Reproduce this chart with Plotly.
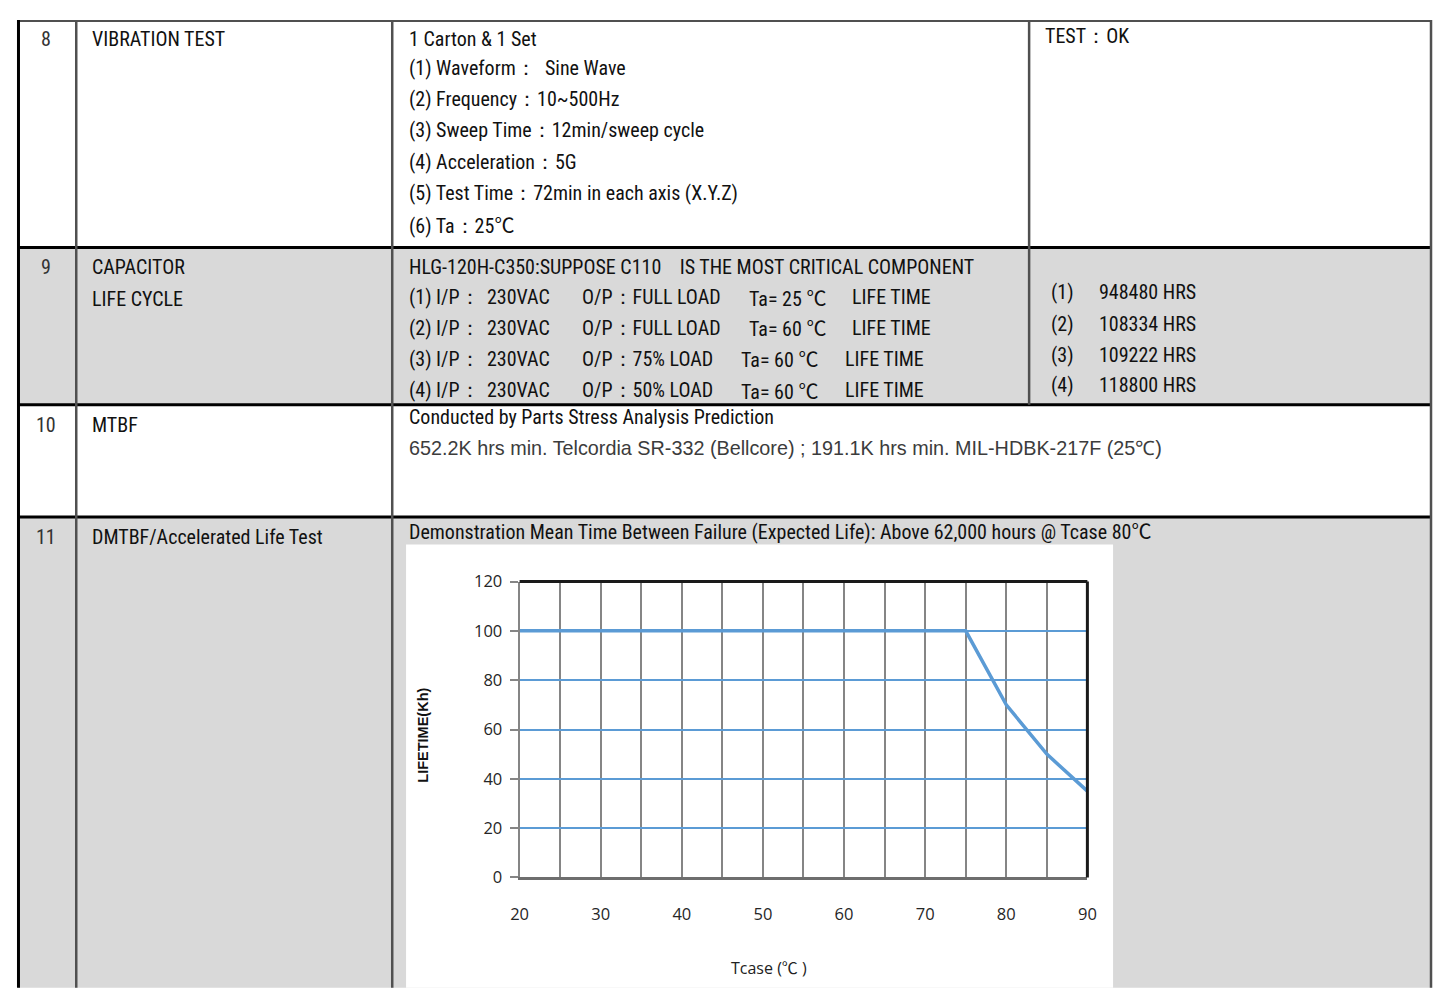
import plotly.graph_objects as go

# The page body keeps its default 8px margin on every side, so the figure is drawn
# 16px smaller and every reference pixel coordinate is shifted by that margin.
OFF = 8
W, H = 1449 - 2 * OFF, 999 - 2 * OFF

# ---------------- data ----------------
tcase = [20, 75, 80, 85, 90]
lifetime_kh = [100, 100, 70, 50, 35]

x_ticks = [20, 30, 40, 50, 60, 70, 80, 90]
y_ticks = [0, 20, 40, 60, 80, 100, 120]

DEG = '<span style="font-family:Noto Sans CJK SC">℃</span>'

row_numbers = ["8", "9", "10", "11"]
row_items = [["VIBRATION TEST"], ["CAPACITOR", "LIFE CYCLE"], ["MTBF"], ["DMTBF/Accelerated Life Test"]]

vibration_lines = [
    "1 Carton & 1 Set",
    "(1) Waveform：  Sine Wave",
    "(2) Frequency：10~500Hz",
    "(3) Sweep Time：12min/sweep cycle",
    "(4) Acceleration：5G",
    "(5) Test Time：72min in each axis (X.Y.Z)",
    "(6) Ta：25" + DEG,
]
vibration_result = "TEST：OK"

cap_header = "HLG-120H-C350:SUPPOSE C110    IS THE MOST CRITICAL COMPONENT"
cap_index = ["(1)", "(2)", "(3)", "(4)"]
cap_ip = ["230VAC", "230VAC", "230VAC", "230VAC"]
cap_op = ["O/P：FULL LOAD", "O/P：FULL LOAD", "O/P：75% LOAD", "O/P：50% LOAD"]
cap_ta = ["Ta= 25 " + DEG, "Ta= 60 " + DEG, "Ta= 60 " + DEG, "Ta= 60 " + DEG]
cap_hours = ["948480 HRS", "108334 HRS", "109222 HRS", "118800 HRS"]

mtbf_lines = ["Conducted by Parts Stress Analysis Prediction",
              "652.2K hrs min. Telcordia SR-332 (Bellcore) ; 191.1K hrs min. MIL-HDBK-217F (25℃)"]
dmtbf_line = "Demonstration Mean Time Between Failure (Expected Life): Above 62,000 hours @ Tcase 80" + DEG

# ---------------- helpers ----------------
def px(x):
    return (x - OFF) / W

def py(y):
    return 1 - (y - OFF) / H

NARROW = "Liberation Sans Narrow, Arial Narrow, Roboto Condensed, sans-serif"
FS = 20
shapes = []
annotations = []

def rect(x0, y0, x1, y1, color):
    shapes.append(dict(type="rect", xref="paper", yref="paper", x0=px(x0), x1=px(x1),
                       y0=py(y1), y1=py(y0), fillcolor=color, line=dict(width=0), layer="below"))

def line(x0, y0, x1, y1, color, width):
    shapes.append(dict(type="line", xref="paper", yref="paper", x0=px(x0), x1=px(x1),
                       y0=py(y0), y1=py(y1), line=dict(color=color, width=width), layer="below"))

def text(x, y, s, size=FS, color="#111111", family=NARROW, anchor="left", bold=False):
    annotations.append(dict(xref="paper", yref="paper", x=px(x), y=py(y), text=("<b>%s</b>" % s) if bold else s,
                            showarrow=False, xanchor=anchor, yanchor="middle",
                            font=dict(size=size, color=color, family=family)))

GREY_BG = "#d9d9d9"
rect(9, 241, 1441, 402, GREY_BG)
rect(9, 517, 1441, 999, GREY_BG)
rect(402, 545, 1118, 999, "#ffffff")

LC = "#505050"
line(8, 9, 1441, 9, LC, 2)
for yy in [241, 402, 517]:
    line(8, yy, 1441, yy, "#000000", 3)
line(9.5, 8, 9.5, 999, "#000000", 3)
line(68, 8, 68, 999, LC, 2.5)
line(388, 8, 388, 999, LC, 2.5)
line(1033, 8, 1033, 402, LC, 2.5)
line(1440, 8, 1440, 999, LC, 2.5)

# row numbers & items
row_y = [27, 261, 423, 537]
for num, items, yy in zip(row_numbers, row_items, row_y):
    text(37, yy, num, anchor="center", size=20, color="#333333")
    for i, it in enumerate(items):
        text(82, yy + i * 33, it)

# row 8
vib_y = [27, 57, 89, 121, 153, 185, 217]
for s, yy in zip(vibration_lines, vib_y):
    text(403, yy, s)
text(1047, 24, vibration_result)

# row 9
text(403, 261, cap_header)
cap_y = [292, 323, 355, 387]
hrs_y = [287, 319, 351, 382]
for i in range(4):
    yy = cap_y[i]
    text(403, yy, cap_index[i] + " I/P：")
    text(482, yy, cap_ip[i])
    text(578, yy, cap_op[i])
    text(747 if i < 2 else 739, yy, cap_ta[i])
    text(852 if i < 2 else 845, yy, "LIFE TIME")
    text(1053, hrs_y[i], cap_index[i])
    text(1102, hrs_y[i], cap_hours[i])

# row 10
text(403, 415, mtbf_lines[0])
text(403, 446, mtbf_lines[1], size=19.8, color="#3c3c3c", family="Liberation Sans, Arial, sans-serif")

# row 11
text(403, 531, dmtbf_line)

# chart axis titles
text(419, 740, "LIFETIME(Kh)", size=14.5, family="Liberation Sans, Arial, sans-serif", anchor="center", bold=True)
annotations[-1]["textangle"] = -90
text(770, 978, "Tcase (" + DEG + " )", size=16, color="#222222", family="Open Sans, sans-serif", anchor="center")

# ---------------- figure ----------------
fig = go.Figure()
fig.add_trace(go.Scatter(x=tcase, y=lifetime_kh, mode="lines", xaxis="x2", yaxis="y2",
                         line=dict(color="#5b9bd5", width=3.5), showlegend=False,
                         cliponaxis=False))

dom_x = [px(517), px(1092)]
dom_y = [py(886), py(583)]
tickfont = dict(size=16.5, color="#262626", family="Open Sans, sans-serif")

shapes.append(dict(type="line", xref="x2 domain", yref="y2 domain", x0=0, x1=1, y0=1, y1=1,
                   line=dict(color="#1a1a1a", width=3)))
shapes.append(dict(type="line", xref="x2 domain", yref="y2 domain", x0=1, x1=1, y0=0, y1=1,
                   line=dict(color="#1a1a1a", width=3)))

fig.update_layout(
    width=W, height=H, margin=dict(l=0, r=0, t=0, b=0), autosize=False,
    paper_bgcolor="#ffffff", plot_bgcolor="rgba(0,0,0,0)",
    showlegend=False,
    xaxis=dict(visible=False, range=[0, 1], domain=[0, 1]),
    yaxis=dict(visible=False, range=[0, 1], domain=[0, 1]),
    xaxis2=dict(domain=dom_x, anchor="y2", range=[20, 90], tickvals=x_ticks,
                showgrid=True, gridcolor="#858585", gridwidth=2,
                minor=dict(dtick=5, tick0=20, showgrid=True, gridcolor="#858585", gridwidth=2),
                showline=True, linecolor="#6e6e6e", linewidth=2.5, ticks="",
                ticklabelstandoff=20, tickfont=tickfont, zeroline=False, fixedrange=True),
    yaxis2=dict(domain=dom_y, anchor="x2", range=[0, 120], tickvals=y_ticks,
                showgrid=True, gridcolor="#5b9bd5", gridwidth=2,
                showline=True, linecolor="#858585", linewidth=2, ticks="outside", ticklen=8,
                tickcolor="#858585", tickwidth=2, ticklabelstandoff=4,
                tickfont=tickfont, zeroline=False, fixedrange=True),
    yaxis3=dict(domain=dom_y, anchor="x2", overlaying="y2", range=[0, 120], tickvals=[40, 80],
                showgrid=True, gridcolor="#5b9bd5", gridwidth=3.5, showticklabels=False,
                showline=False, ticks="", zeroline=False, fixedrange=True),
    shapes=shapes, annotations=annotations,
)

fig.write_html("out.html", config={"displayModeBar": False})
